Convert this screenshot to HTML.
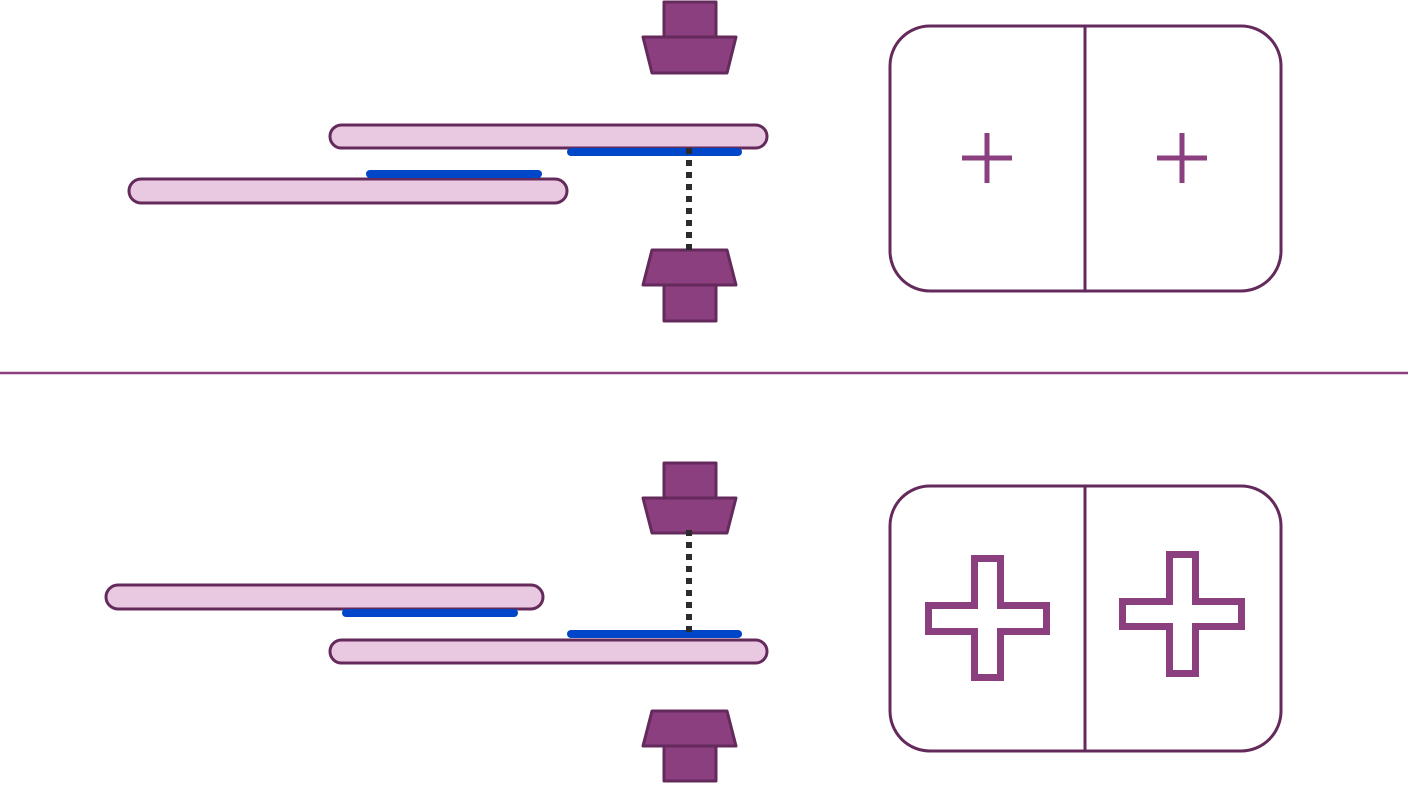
<!DOCTYPE html>
<html><head><style>html,body{margin:0;padding:0;background:#fff}</style></head><body>
<svg width="1408" height="783" viewBox="0 0 1408 783" xmlns="http://www.w3.org/2000/svg">
<g stroke="#652a5c" stroke-width="3" stroke-linejoin="round">
<!-- top section -->
<rect x="664" y="2" width="52" height="35" fill="#8b3f7f"/>
<polygon points="643,37 736,37 727,73 652,73" fill="#8b3f7f"/>
<polygon points="652,250 727,250 736,285 643,285" fill="#8b3f7f"/>
<rect x="664" y="285" width="52" height="36" fill="#8b3f7f"/>
<rect x="330" y="125" width="437" height="23" rx="11.5" fill="#e9c9e1"/>
<rect x="129" y="179" width="438" height="24" rx="12" fill="#e9c9e1"/>
<!-- bottom section -->
<rect x="664" y="463" width="52" height="35" fill="#8b3f7f"/>
<polygon points="643,498 736,498 727,533 652,533" fill="#8b3f7f"/>
<polygon points="652,711 727,711 736,746 643,746" fill="#8b3f7f"/>
<rect x="664" y="746" width="52" height="35" fill="#8b3f7f"/>
<rect x="106" y="585" width="437" height="24" rx="12" fill="#e9c9e1"/>
<rect x="330" y="640" width="437" height="23" rx="11.5" fill="#e9c9e1"/>
<rect x="890" y="26" width="391" height="265" rx="40" fill="none"/>
<line x1="1085" y1="26" x2="1085" y2="291"/>
<rect x="890" y="486" width="391" height="265" rx="40" fill="none"/>
<line x1="1085" y1="486" x2="1085" y2="751"/>
</g>
<g stroke="#0046c8" stroke-width="8" stroke-linecap="round">
<line x1="571" y1="152" x2="738" y2="152"/>
<line x1="370" y1="174" x2="538" y2="174"/>
<line x1="346" y1="613" x2="514" y2="613"/>
<line x1="571" y1="634" x2="738" y2="634"/>
</g>
<g stroke="#2b2b2b" stroke-width="6" stroke-dasharray="6,6">
<line x1="689" y1="148" x2="689" y2="250"/>
<line x1="689" y1="530" x2="689" y2="634"/>
</g>
<line x1="0" y1="373" x2="1408" y2="373" stroke="#8b3f7f" stroke-width="2.5"/>
<g stroke="#8b3f7f" stroke-width="5">
<line x1="962" y1="158" x2="1012" y2="158"/><line x1="987" y1="133" x2="987" y2="183"/>
<line x1="1157" y1="158" x2="1207" y2="158"/><line x1="1182" y1="133" x2="1182" y2="183"/>
</g>
<g stroke="#8b3f7f" stroke-width="7" fill="none">
<polygon points="974.5,558.5 1000.5,558.5 1000.5,605.5 1046.5,605.5 1046.5,631.5 1000.5,631.5 1000.5,677.5 974.5,677.5 974.5,631.5 928.5,631.5 928.5,605.5 974.5,605.5"/>
<polygon points="1169.5,554.5 1195.5,554.5 1195.5,601.5 1241.5,601.5 1241.5,626.5 1195.5,626.5 1195.5,673.5 1169.5,673.5 1169.5,626.5 1122.5,626.5 1122.5,601.5 1169.5,601.5"/>
</g>
</svg>
</body></html>
